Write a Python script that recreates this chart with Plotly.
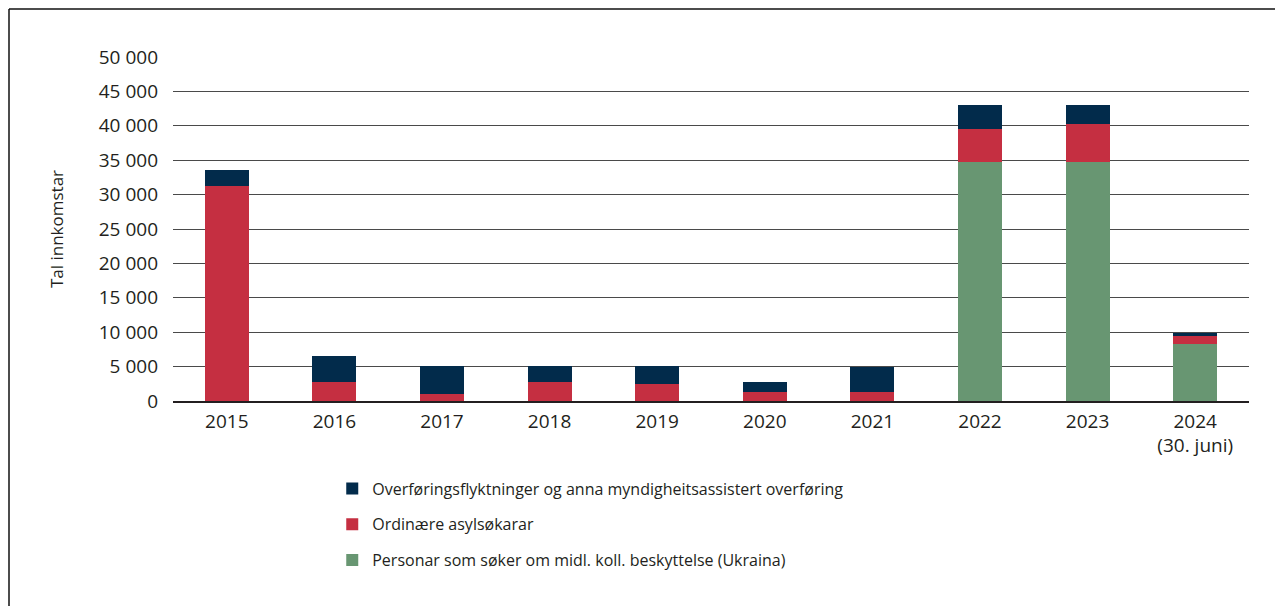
import plotly.graph_objects as go

years = ["2015", "2016", "2017", "2018", "2019", "2020", "2021", "2022", "2023", "2024<br>(30. juni)"]
ukraina = [0, 0, 0, 0, 0, 0, 0, 34700, 34700, 8300]
asyl = [31200, 2700, 1000, 2700, 2400, 1300, 1300, 4900, 5500, 1100]
overforing = [2400, 3800, 4100, 2400, 2700, 1400, 3700, 3400, 2800, 500]

names = [
    "Personar som søker om midl. koll. beskyttelse (Ukraina)",
    "Ordinære asylsøkarar",
    "Overføringsflyktninger og anna myndigheitsassistert overføring",
]
colors = ["#689672", "#c52f41", "#022b4b"]
series = [ukraina, asyl, overforing]
ranks = [3, 2, 1]

FONT = "Open Sans"
TXT = "#231f20"

fig = go.Figure()
for i, (nm, col, vals, rk) in enumerate(zip(names, colors, series, ranks)):
    fig.add_trace(go.Bar(
        x=years, y=vals, name=nm, marker=dict(color=col, line=dict(width=0)),
        legendgroup=f"g{i}", legendrank=rk,
    ))

L, R, T, B = 165, 42, 49, 213
W, H = 1283, 606
pw, ph = W - L - R, H - T - B

fig.update_layout(
    width=W, height=H,
    barmode="stack", bargap=0.59,
    paper_bgcolor="white", plot_bgcolor="white",
    margin=dict(l=L, r=R, t=T, b=B),
    font=dict(family=FONT, size=19, color=TXT),
    showlegend=True,
    legend=dict(
        x=0.148, xanchor="left", y=-0.205, yanchor="top",
        traceorder="grouped", tracegroupgap=12,
        font=dict(family=FONT, size=16, color=TXT),
        bgcolor="rgba(0,0,0,0)",
    ),
    xaxis=dict(
        showgrid=False, showline=True, linecolor="#231f20", linewidth=1.5,
        ticks="", ticklabelstandoff=2, tickfont=dict(size=19),
    ),
    yaxis=dict(
        range=[0, 50000], tickvals=list(range(0, 50001, 5000)),
        ticktext=[f"{v:,}".replace(",", " ") for v in range(0, 50001, 5000)],
        showgrid=True, gridcolor="#4a4a4a", gridwidth=1,
        zeroline=False, ticks="", ticklabelstandoff=14,
        tickfont=dict(size=19),
        title=dict(text="Tal innkomstar", standoff=30, font=dict(size=17)),
    ),
    shapes=[
        dict(type="line", xref="paper", yref="paper",
             x0=-(L - 1) / pw, x1=1 + (R + 10) / pw, y0=1 + (T - 1) / ph, y1=1 + (T - 1) / ph,
             line=dict(color="#111", width=1.5)),
        dict(type="line", xref="paper", yref="paper",
             x0=-(L - 1) / pw, x1=-(L - 1) / pw, y0=1 + (T - 1) / ph, y1=-(B + 10) / ph,
             line=dict(color="#111", width=1.5)),
    ],
)

fig.write_html("out.html")
